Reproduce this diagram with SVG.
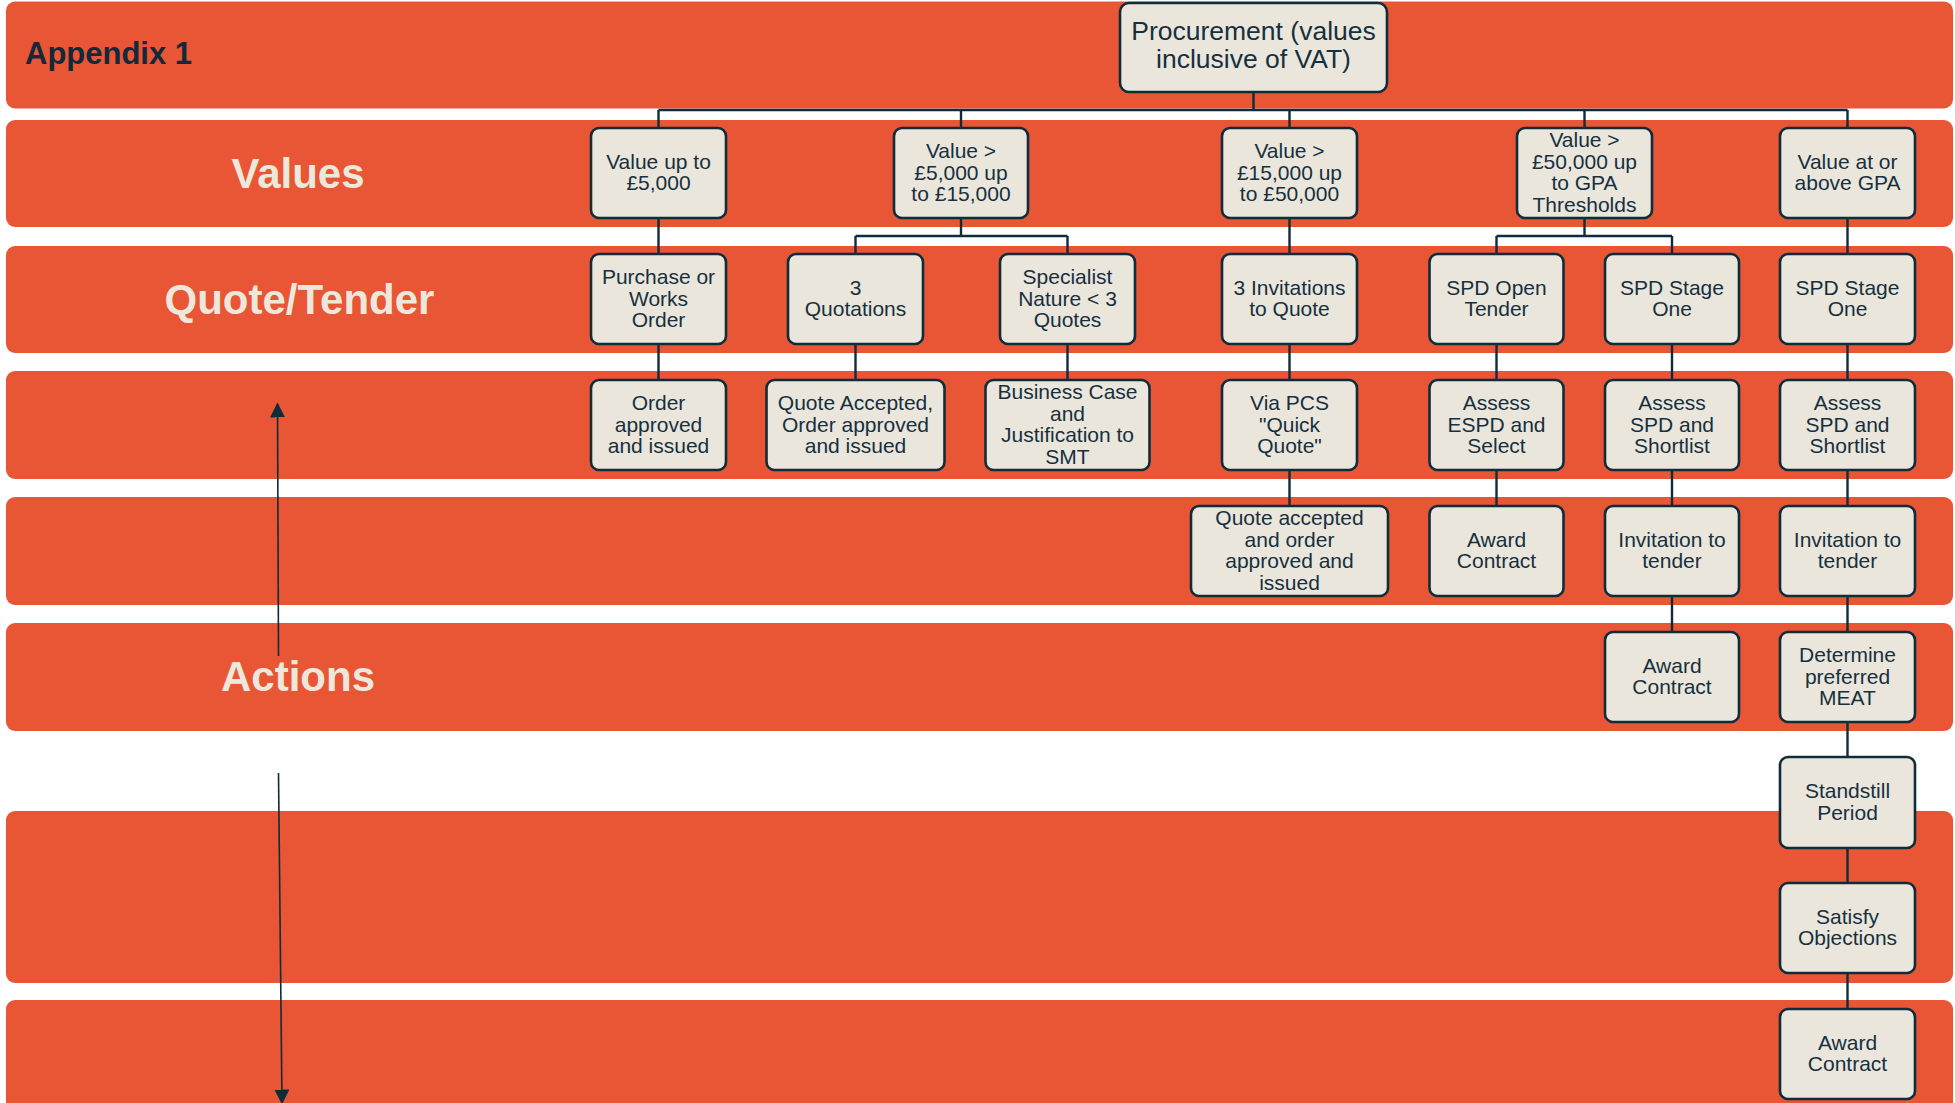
<svg xmlns="http://www.w3.org/2000/svg" width="1955" height="1103" viewBox="0 0 1955 1103">
<style>
.band{fill:#E85636;}
.node rect{fill:#EBE6DB;stroke:#0F2C3B;stroke-width:2.6;}
.node text{font-family:"Liberation Sans",Arial,sans-serif;font-size:21px;fill:#16303F;text-anchor:middle;transform:translateY(-1px);}
.lane{font-family:"Liberation Sans",Arial,sans-serif;font-size:42px;font-weight:bold;fill:#EEE8DC;text-anchor:middle;}
.conn{stroke:#0F2C3B;stroke-width:2.4;fill:none;}
.arrow{stroke:#0F2C3B;stroke-width:1.6;fill:none;}
</style>
<defs>
<marker id="ah" viewBox="0 0 10 10" refX="9" refY="5" markerWidth="15" markerHeight="15" markerUnits="userSpaceOnUse" orient="auto">
<path d="M0,0 L10,5 L0,10 z" fill="#0F2C3B"/>
</marker>
</defs>
<rect width="1955" height="1103" fill="#FFFFFF"/>
<g id="bands">
<rect class="band" x="6" y="1.5" width="1947" height="107" rx="9"/>
<rect class="band" x="6" y="120" width="1947" height="107" rx="9"/>
<rect class="band" x="6" y="246" width="1947" height="107" rx="9"/>
<rect class="band" x="6" y="371" width="1947" height="108" rx="9"/>
<rect class="band" x="6" y="497" width="1947" height="108" rx="9"/>
<rect class="band" x="6" y="623" width="1947" height="108" rx="9"/>
<rect class="band" x="6" y="811" width="1947" height="172" rx="9"/>
<rect class="band" x="6" y="1000" width="1947" height="130" rx="9"/>
</g>
<g id="lanes">
<text x="25" y="64" style="font-family:'Liberation Sans',Arial,sans-serif;font-size:31px;font-weight:bold;fill:#13293A;">Appendix 1</text>
<text class="lane" x="298" y="188">Values</text>
<text class="lane" x="299.5" y="314">Quote/Tender</text>
<text class="lane" x="298" y="691">Actions</text>
</g>
<g id="connectors">
<path class="conn" d="M1253.5,92 V110 M658.5,110 H1847.5 M658.5,110 V128 M961,110 V128 M1289.5,110 V128 M1584.5,110 V128 M1847.5,110 V128"/>
<path class="conn" d="M658.5,218 V254 M658.5,344 V380"/>
<path class="conn" d="M961,218 V236 M855.5,236 H1067.5 M855.5,236 V254 M1067.5,236 V254 M855.5,344 V380 M1067.5,344 V380"/>
<path class="conn" d="M1289.5,218 V254 M1289.5,344 V380 M1289.5,470 V506"/>
<path class="conn" d="M1584.5,218 V236 M1496.5,236 H1672 M1496.5,236 V254 M1672,236 V254"/>
<path class="conn" d="M1496.5,344 V380 M1496.5,470 V506"/>
<path class="conn" d="M1672,344 V380 M1672,470 V506 M1672,596 V632"/>
<path class="conn" d="M1847.5,218 V254 M1847.5,344 V380 M1847.5,470 V506 M1847.5,596 V632 M1847.5,722 V757 M1847.5,848 V883 M1847.5,973 V1009"/>
<line class="arrow" x1="278.5" y1="656" x2="277.5" y2="404" marker-end="url(#ah)"/>
<line class="arrow" x1="278.5" y1="773" x2="282" y2="1103" marker-end="url(#ah)"/>
</g>
<g id="root" class="node">
<rect x="1120" y="3" width="267" height="89" rx="9"/>
<text style="font-size:26.5px"><tspan x="1253.5" y="41">Procurement (values</tspan><tspan x="1253.5" y="69">inclusive of VAT)</tspan></text>
</g>
<g id="v1" class="node"><rect x="591" y="128" width="135" height="90" rx="8"/>
<text><tspan x="658.5" y="169.65">Value up to</tspan><tspan x="658.5" y="191.35">£5,000</tspan></text></g>
<g id="v2" class="node"><rect x="894" y="128" width="134" height="90" rx="8"/>
<text><tspan x="961" y="158.8">Value &gt;</tspan><tspan x="961" y="180.5">£5,000 up</tspan><tspan x="961" y="202.2">to £15,000</tspan></text></g>
<g id="v3" class="node"><rect x="1222" y="128" width="135" height="90" rx="8"/>
<text><tspan x="1289.5" y="158.8">Value &gt;</tspan><tspan x="1289.5" y="180.5">£15,000 up</tspan><tspan x="1289.5" y="202.2">to £50,000</tspan></text></g>
<g id="v4" class="node"><rect x="1517" y="128" width="135" height="90" rx="8"/>
<text><tspan x="1584.5" y="147.95">Value &gt;</tspan><tspan x="1584.5" y="169.65">£50,000 up</tspan><tspan x="1584.5" y="191.35">to GPA</tspan><tspan x="1584.5" y="213.05">Thresholds</tspan></text></g>
<g id="v5" class="node"><rect x="1780" y="128" width="135" height="90" rx="8"/>
<text><tspan x="1847.5" y="169.65">Value at or</tspan><tspan x="1847.5" y="191.35">above GPA</tspan></text></g>

<g id="q1" class="node"><rect x="591" y="254" width="135" height="90" rx="8"/>
<text><tspan x="658.5" y="284.8">Purchase or</tspan><tspan x="658.5" y="306.5">Works</tspan><tspan x="658.5" y="328.2">Order</tspan></text></g>
<g id="q2" class="node"><rect x="788" y="254" width="135" height="90" rx="8"/>
<text><tspan x="855.5" y="295.65">3</tspan><tspan x="855.5" y="317.35">Quotations</tspan></text></g>
<g id="q3" class="node"><rect x="1000" y="254" width="135" height="90" rx="8"/>
<text><tspan x="1067.5" y="284.8">Specialist</tspan><tspan x="1067.5" y="306.5">Nature &lt; 3</tspan><tspan x="1067.5" y="328.2">Quotes</tspan></text></g>
<g id="q4" class="node"><rect x="1222" y="254" width="135" height="90" rx="8"/>
<text><tspan x="1289.5" y="295.65">3 Invitations</tspan><tspan x="1289.5" y="317.35">to Quote</tspan></text></g>
<g id="q5" class="node"><rect x="1429.5" y="254" width="134" height="90" rx="8"/>
<text><tspan x="1496.5" y="295.65">SPD Open</tspan><tspan x="1496.5" y="317.35">Tender</tspan></text></g>
<g id="q6" class="node"><rect x="1605" y="254" width="134" height="90" rx="8"/>
<text><tspan x="1672" y="295.65">SPD Stage</tspan><tspan x="1672" y="317.35">One</tspan></text></g>
<g id="q7" class="node"><rect x="1780" y="254" width="135" height="90" rx="8"/>
<text><tspan x="1847.5" y="295.65">SPD Stage</tspan><tspan x="1847.5" y="317.35">One</tspan></text></g>

<g id="a1" class="node"><rect x="591" y="380" width="135" height="90" rx="8"/>
<text><tspan x="658.5" y="410.8">Order</tspan><tspan x="658.5" y="432.5">approved</tspan><tspan x="658.5" y="454.2">and issued</tspan></text></g>
<g id="a2" class="node"><rect x="766.5" y="380" width="178" height="90" rx="8"/>
<text><tspan x="855.5" y="410.8">Quote Accepted,</tspan><tspan x="855.5" y="432.5">Order approved</tspan><tspan x="855.5" y="454.2">and issued</tspan></text></g>
<g id="a3" class="node"><rect x="985.5" y="380" width="164" height="90" rx="8"/>
<text><tspan x="1067.5" y="399.95">Business Case</tspan><tspan x="1067.5" y="421.65">and</tspan><tspan x="1067.5" y="443.35">Justification to</tspan><tspan x="1067.5" y="465.05">SMT</tspan></text></g>
<g id="a4" class="node"><rect x="1222" y="380" width="135" height="90" rx="8"/>
<text><tspan x="1289.5" y="410.8">Via PCS</tspan><tspan x="1289.5" y="432.5">"Quick</tspan><tspan x="1289.5" y="454.2">Quote"</tspan></text></g>
<g id="a5" class="node"><rect x="1429.5" y="380" width="134" height="90" rx="8"/>
<text><tspan x="1496.5" y="410.8">Assess</tspan><tspan x="1496.5" y="432.5">ESPD and</tspan><tspan x="1496.5" y="454.2">Select</tspan></text></g>
<g id="a6" class="node"><rect x="1605" y="380" width="134" height="90" rx="8"/>
<text><tspan x="1672" y="410.8">Assess</tspan><tspan x="1672" y="432.5">SPD and</tspan><tspan x="1672" y="454.2">Shortlist</tspan></text></g>
<g id="a7" class="node"><rect x="1780" y="380" width="135" height="90" rx="8"/>
<text><tspan x="1847.5" y="410.8">Assess</tspan><tspan x="1847.5" y="432.5">SPD and</tspan><tspan x="1847.5" y="454.2">Shortlist</tspan></text></g>

<g id="b4" class="node"><rect x="1191" y="506" width="197" height="90" rx="8"/>
<text><tspan x="1289.5" y="525.95">Quote accepted</tspan><tspan x="1289.5" y="547.65">and order</tspan><tspan x="1289.5" y="569.35">approved and</tspan><tspan x="1289.5" y="591.05">issued</tspan></text></g>
<g id="b5" class="node"><rect x="1429.5" y="506" width="134" height="90" rx="8"/>
<text><tspan x="1496.5" y="547.65">Award</tspan><tspan x="1496.5" y="569.35">Contract</tspan></text></g>
<g id="b6" class="node"><rect x="1605" y="506" width="134" height="90" rx="8"/>
<text><tspan x="1672" y="547.65">Invitation to</tspan><tspan x="1672" y="569.35">tender</tspan></text></g>
<g id="b7" class="node"><rect x="1780" y="506" width="135" height="90" rx="8"/>
<text><tspan x="1847.5" y="547.65">Invitation to</tspan><tspan x="1847.5" y="569.35">tender</tspan></text></g>

<g id="c6" class="node"><rect x="1605" y="632" width="134" height="90" rx="8"/>
<text><tspan x="1672" y="673.65">Award</tspan><tspan x="1672" y="695.35">Contract</tspan></text></g>
<g id="c7" class="node"><rect x="1780" y="632" width="135" height="90" rx="8"/>
<text><tspan x="1847.5" y="662.8">Determine</tspan><tspan x="1847.5" y="684.5">preferred</tspan><tspan x="1847.5" y="706.2">MEAT</tspan></text></g>
<g id="d7" class="node"><rect x="1780" y="757" width="135" height="91" rx="8"/>
<text><tspan x="1847.5" y="799.15">Standstill</tspan><tspan x="1847.5" y="820.85">Period</tspan></text></g>
<g id="e7" class="node"><rect x="1780" y="883" width="135" height="90" rx="8"/>
<text><tspan x="1847.5" y="924.65">Satisfy</tspan><tspan x="1847.5" y="946.35">Objections</tspan></text></g>
<g id="f7" class="node"><rect x="1780" y="1009" width="135" height="90" rx="8"/>
<text><tspan x="1847.5" y="1050.65">Award</tspan><tspan x="1847.5" y="1072.35">Contract</tspan></text></g>
</svg>
